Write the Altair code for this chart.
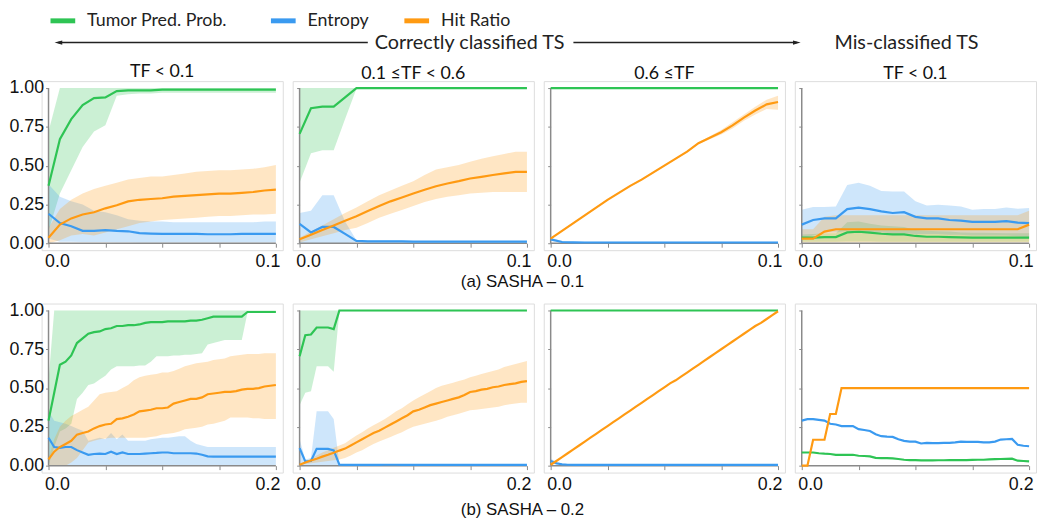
import altair as alt
import pandas as pd

SERIES = ["Tumor Pred. Prob.", "Entropy", "Hit Ratio"]
COLORS = ["#2ec454", "#3a9af0", "#ff9a12"]
COL_TITLES = ["TF < 0.1", "0.1 \u2264TF < 0.6", "0.6 \u2264TF", "TF < 0.1"]
X1 = [round(i * 0.005, 3) for i in range(21)]
X2 = [round(i * 0.005, 3) for i in range(41)]
TICKS1 = [0, 0.025, 0.05, 0.075, 0.1]
TICKS2 = [0, 0.05, 0.1, 0.15, 0.2]

# ---------- (a) SASHA - 0.1 ----------
a1_green = [0.37, 0.67, 0.80, 0.89, 0.935, 0.94, 0.98, 0.985, 0.985, 0.985, 0.99, 0.99, 0.99, 0.99, 0.99, 0.99, 0.99, 0.99, 0.99, 0.99, 0.99]
a1_green_lo = [0.08, 0.32, 0.47, 0.62, 0.72, 0.76, 0.95, 0.96, 0.965, 0.965, 0.97, 0.97, 0.97, 0.97, 0.97, 0.97, 0.97, 0.97, 0.97, 0.97, 0.97]
a1_green_hi = [0.72, 1.0, 1.0, 1.0, 1.0, 1.0, 1.0, 1.0, 1.0, 1.0, 1.0, 1.0, 1.0, 1.0, 1.0, 1.0, 1.0, 1.0, 1.0, 1.0, 1.0]
a1_blue = [0.19, 0.13, 0.11, 0.08, 0.08, 0.085, 0.08, 0.077, 0.065, 0.062, 0.06, 0.06, 0.06, 0.06, 0.058, 0.058, 0.058, 0.06, 0.06, 0.06, 0.06]
a1_blue_lo = [0.03, 0.01, 0.01, 0.008, 0.008, 0.008, 0.006, 0.006, 0.005, 0.005, 0.005, 0.005, 0.005, 0.005, 0.005, 0.005, 0.005, 0.005, 0.005, 0.005, 0.005]
a1_blue_hi = [0.38, 0.30, 0.27, 0.25, 0.21, 0.20, 0.18, 0.155, 0.145, 0.14, 0.14, 0.135, 0.135, 0.135, 0.135, 0.135, 0.135, 0.135, 0.135, 0.14, 0.14]
a1_orange = [0.035, 0.12, 0.16, 0.185, 0.20, 0.225, 0.245, 0.27, 0.28, 0.285, 0.29, 0.30, 0.305, 0.31, 0.315, 0.32, 0.32, 0.325, 0.33, 0.34, 0.345]
a1_orange_lo = [0.0, 0.02, 0.05, 0.06, 0.05, 0.07, 0.09, 0.11, 0.13, 0.14, 0.15, 0.155, 0.16, 0.165, 0.17, 0.175, 0.175, 0.18, 0.185, 0.185, 0.19]
a1_orange_hi = [0.10, 0.22, 0.28, 0.32, 0.35, 0.37, 0.39, 0.41, 0.42, 0.43, 0.43, 0.44, 0.45, 0.46, 0.465, 0.47, 0.47, 0.475, 0.48, 0.49, 0.505]

a2_green = [0.705, 0.87, 0.88, 0.88, 0.94, 1.0, 1.0, 1.0, 1.0, 1.0, 1.0, 1.0, 1.0, 1.0, 1.0, 1.0, 1.0, 1.0, 1.0, 1.0, 1.0]
a2_green_lo = [0.39, 0.58, 0.60, 0.60, 0.80, 0.995, 0.995, 0.995, 0.995, 0.995, 0.995, 0.995, 0.995, 0.995, 0.995, 0.995, 0.995, 0.995, 0.995, 0.995, 0.995]
a2_green_hi = [1.0, 1.0, 1.0, 1.0, 1.0, 1.0, 1.0, 1.0, 1.0, 1.0, 1.0, 1.0, 1.0, 1.0, 1.0, 1.0, 1.0, 1.0, 1.0, 1.0, 1.0]
a2_blue = [0.125, 0.07, 0.105, 0.105, 0.06, 0.015, 0.012, 0.012, 0.012, 0.012, 0.01, 0.01, 0.01, 0.01, 0.01, 0.01, 0.01, 0.01, 0.01, 0.01, 0.01]
a2_blue_lo = [0.0, 0.0, 0.0, 0.0, 0.0, 0.008, 0.006, 0.006, 0.006, 0.006, 0.005, 0.005, 0.005, 0.005, 0.005, 0.005, 0.005, 0.005, 0.005, 0.005, 0.005]
a2_blue_hi = [0.195, 0.21, 0.31, 0.31, 0.14, 0.02, 0.018, 0.018, 0.018, 0.018, 0.015, 0.015, 0.015, 0.015, 0.015, 0.015, 0.015, 0.015, 0.015, 0.015, 0.015]
a2_orange = [0.025, 0.055, 0.085, 0.115, 0.145, 0.174, 0.208, 0.24, 0.27, 0.295, 0.32, 0.345, 0.367, 0.385, 0.40, 0.417, 0.428, 0.44, 0.45, 0.46, 0.46]
a2_orange_lo = [0.005, 0.025, 0.045, 0.065, 0.085, 0.10, 0.13, 0.165, 0.19, 0.215, 0.24, 0.265, 0.285, 0.30, 0.31, 0.32, 0.325, 0.33, 0.33, 0.33, 0.33]
a2_orange_hi = [0.035, 0.075, 0.115, 0.155, 0.195, 0.23, 0.27, 0.31, 0.34, 0.37, 0.40, 0.44, 0.475, 0.49, 0.505, 0.525, 0.545, 0.56, 0.575, 0.59, 0.59]

a3_green = [1.0, 1.0, 1.0, 1.0, 1.0, 1.0, 1.0, 1.0, 1.0, 1.0, 1.0, 1.0, 1.0, 1.0, 1.0, 1.0, 1.0, 1.0, 1.0, 1.0, 1.0]
a3_blue = [0.025, 0.008, 0.006, 0.005, 0.005, 0.005, 0.005, 0.005, 0.005, 0.005, 0.005, 0.005, 0.005, 0.005, 0.005, 0.005, 0.005, 0.005, 0.005, 0.005, 0.005]
a3_blue_lo = [0.015, 0.003, 0.002, 0.002, 0.002, 0.002, 0.002, 0.002, 0.002, 0.002, 0.002, 0.002, 0.002, 0.002, 0.002, 0.002, 0.002, 0.002, 0.002, 0.002, 0.002]
a3_blue_hi = [0.035, 0.015, 0.01, 0.009, 0.009, 0.009, 0.009, 0.009, 0.009, 0.009, 0.009, 0.009, 0.009, 0.009, 0.009, 0.009, 0.009, 0.009, 0.009, 0.009, 0.009]
a3_orange = [0.03, 0.08, 0.13, 0.18, 0.23, 0.28, 0.325, 0.37, 0.41, 0.455, 0.50, 0.545, 0.59, 0.645, 0.68, 0.715, 0.76, 0.81, 0.855, 0.895, 0.91]
a3_orange_lo = [0.025, 0.075, 0.125, 0.175, 0.225, 0.275, 0.32, 0.365, 0.405, 0.45, 0.495, 0.54, 0.585, 0.64, 0.67, 0.70, 0.74, 0.79, 0.83, 0.865, 0.86]
a3_orange_hi = [0.035, 0.085, 0.135, 0.185, 0.235, 0.285, 0.33, 0.375, 0.415, 0.46, 0.505, 0.55, 0.595, 0.65, 0.69, 0.73, 0.78, 0.83, 0.88, 0.925, 0.95]

a4_green = [0.036, 0.036, 0.04, 0.04, 0.07, 0.074, 0.068, 0.061, 0.057, 0.057, 0.047, 0.042, 0.042, 0.04, 0.038, 0.036, 0.036, 0.036, 0.036, 0.036, 0.036]
a4_green_lo = [0.01, 0.01, 0.01, 0.01, 0.012, 0.012, 0.012, 0.01, 0.01, 0.01, 0.01, 0.01, 0.01, 0.01, 0.01, 0.01, 0.01, 0.01, 0.01, 0.01, 0.01]
a4_green_hi = [0.057, 0.06, 0.065, 0.065, 0.136, 0.14, 0.125, 0.115, 0.11, 0.105, 0.085, 0.08, 0.078, 0.075, 0.07, 0.068, 0.068, 0.066, 0.065, 0.065, 0.065]
a4_blue = [0.12, 0.15, 0.16, 0.16, 0.22, 0.23, 0.22, 0.205, 0.195, 0.20, 0.17, 0.16, 0.16, 0.15, 0.146, 0.138, 0.138, 0.138, 0.142, 0.133, 0.13]
a4_blue_lo = [0.03, 0.05, 0.07, 0.07, 0.08, 0.08, 0.07, 0.07, 0.065, 0.065, 0.06, 0.06, 0.06, 0.055, 0.055, 0.05, 0.05, 0.05, 0.05, 0.045, 0.04]
a4_blue_hi = [0.216, 0.233, 0.233, 0.237, 0.375, 0.39, 0.37, 0.337, 0.333, 0.333, 0.27, 0.244, 0.248, 0.244, 0.237, 0.216, 0.22, 0.22, 0.23, 0.222, 0.227]
a4_orange = [0.03, 0.03, 0.075, 0.09, 0.09, 0.09, 0.09, 0.09, 0.09, 0.09, 0.09, 0.09, 0.09, 0.09, 0.09, 0.09, 0.09, 0.09, 0.09, 0.09, 0.12]
a4_orange_lo = [0.005, 0.005, 0.005, 0.005, 0.005, 0.005, 0.005, 0.005, 0.005, 0.005, 0.005, 0.005, 0.005, 0.005, 0.005, 0.005, 0.005, 0.005, 0.005, 0.005, 0.005]
a4_orange_hi = [0.09, 0.09, 0.17, 0.18, 0.18, 0.18, 0.18, 0.18, 0.18, 0.18, 0.18, 0.18, 0.18, 0.18, 0.18, 0.18, 0.18, 0.18, 0.18, 0.18, 0.21]

# ---------- (b) SASHA - 0.2 ----------
b1_green = [0.29, 0.47, 0.65, 0.67, 0.71, 0.79, 0.82, 0.85, 0.86, 0.865, 0.88,
            0.885, 0.90, 0.90, 0.905, 0.905, 0.91, 0.92, 0.925, 0.925, 0.925,
            0.93, 0.93, 0.93, 0.93, 0.935, 0.935, 0.94, 0.95, 0.96, 0.96,
            0.96, 0.96, 0.96, 0.96, 0.99, 0.99, 0.99, 0.99, 0.99, 0.99]
b1_green_lo = [0.0, 0.12, 0.22, 0.24, 0.27, 0.43, 0.47, 0.52, 0.53, 0.555, 0.58,
               0.62, 0.64, 0.64, 0.64, 0.64, 0.645, 0.645, 0.67, 0.705, 0.705,
               0.705, 0.71, 0.71, 0.715, 0.715, 0.72, 0.725, 0.78, 0.79, 0.80,
               0.81, 0.81, 0.81, 0.81, 0.985, 0.985, 0.985, 0.985, 0.985, 0.985]
b1_green_hi = [0.55, 1.0, 1.0, 1.0, 1.0, 1.0, 1.0, 1.0, 1.0, 1.0, 1.0,
               1.0, 1.0, 1.0, 1.0, 1.0, 1.0, 1.0, 1.0, 1.0, 1.0,
               1.0, 1.0, 1.0, 1.0, 1.0, 1.0, 1.0, 1.0, 1.0, 1.0,
               1.0, 1.0, 1.0, 1.0, 1.0, 1.0, 1.0, 1.0, 1.0, 1.0]
b1_blue = [0.18, 0.12, 0.115, 0.12, 0.12, 0.10, 0.085, 0.07, 0.075, 0.078, 0.075,
           0.09, 0.075, 0.085, 0.075, 0.075, 0.075, 0.078, 0.08, 0.082, 0.085,
           0.085, 0.08, 0.08, 0.08, 0.08, 0.078, 0.07, 0.06, 0.058, 0.058,
           0.058, 0.058, 0.058, 0.058, 0.058, 0.058, 0.058, 0.058, 0.058, 0.058]
b1_blue_lo = [0.0, 0.0, 0.0, 0.005, 0.005, 0.005, 0.005, 0.005, 0.005, 0.005, 0.005,
              0.005, 0.005, 0.005, 0.005, 0.005, 0.005, 0.005, 0.005, 0.005, 0.005,
              0.005, 0.005, 0.005, 0.005, 0.005, 0.005, 0.005, 0.005, 0.005, 0.005,
              0.005, 0.005, 0.005, 0.005, 0.005, 0.005, 0.005, 0.005, 0.005, 0.005]
b1_blue_hi = [0.35, 0.29, 0.28, 0.27, 0.255, 0.24, 0.225, 0.16, 0.17, 0.18, 0.17,
              0.21, 0.17, 0.20, 0.16, 0.16, 0.16, 0.16, 0.17, 0.175, 0.18,
              0.18, 0.185, 0.19, 0.19, 0.16, 0.14, 0.13, 0.12, 0.12, 0.12,
              0.12, 0.12, 0.12, 0.12, 0.12, 0.12, 0.12, 0.12, 0.12, 0.12]
b1_orange = [0.04, 0.09, 0.12, 0.14, 0.16, 0.20, 0.21, 0.22, 0.24, 0.255, 0.265,
             0.27, 0.30, 0.305, 0.315, 0.33, 0.35, 0.355, 0.36, 0.37, 0.37,
             0.375, 0.40, 0.41, 0.42, 0.43, 0.43, 0.44, 0.46, 0.465, 0.47,
             0.475, 0.475, 0.48, 0.49, 0.495, 0.495, 0.50, 0.51, 0.515, 0.52]
b1_orange_lo = [0.0, 0.0, 0.0, 0.0, 0.02, 0.05, 0.10, 0.15, 0.16, 0.17, 0.175,
                0.18, 0.18, 0.18, 0.18, 0.18, 0.18, 0.18, 0.185, 0.19, 0.20,
                0.205, 0.21, 0.22, 0.235, 0.24, 0.245, 0.25, 0.265, 0.27, 0.28,
                0.29, 0.31, 0.31, 0.31, 0.31, 0.305, 0.305, 0.30, 0.30, 0.30]
b1_orange_hi = [0.05, 0.17, 0.25, 0.29, 0.32, 0.34, 0.36, 0.38, 0.42, 0.46, 0.47,
                0.475, 0.48, 0.50, 0.52, 0.55, 0.57, 0.58, 0.585, 0.59, 0.60,
                0.60, 0.61, 0.625, 0.64, 0.65, 0.66, 0.665, 0.67, 0.68, 0.685,
                0.69, 0.705, 0.71, 0.715, 0.72, 0.72, 0.72, 0.725, 0.725, 0.725]

b2_green = [0.705, 0.84, 0.845, 0.89, 0.89, 0.89, 0.88, 1.0, 1.0, 1.0, 1.0,
            1.0, 1.0, 1.0, 1.0, 1.0, 1.0, 1.0, 1.0, 1.0, 1.0,
            1.0, 1.0, 1.0, 1.0, 1.0, 1.0, 1.0, 1.0, 1.0, 1.0,
            1.0, 1.0, 1.0, 1.0, 1.0, 1.0, 1.0, 1.0, 1.0, 1.0]
b2_green_lo = [0.39, 0.47, 0.48, 0.64, 0.64, 0.64, 0.605, 0.995, 0.995, 0.995, 0.995,
               0.995, 0.995, 0.995, 0.995, 0.995, 0.995, 0.995, 0.995, 0.995, 0.995,
               0.995, 0.995, 0.995, 0.995, 0.995, 0.995, 0.995, 0.995, 0.995, 0.995,
               0.995, 0.995, 0.995, 0.995, 0.995, 0.995, 0.995, 0.995, 0.995, 0.995]
b2_green_hi = [1.0] * 41
b2_blue = [0.113, 0.028, 0.03, 0.108, 0.108, 0.108, 0.098, 0.006, 0.005, 0.005, 0.005,
           0.005, 0.005, 0.005, 0.005, 0.006, 0.006, 0.006, 0.005, 0.005, 0.005,
           0.005, 0.005, 0.005, 0.005, 0.005, 0.005, 0.005, 0.005, 0.005, 0.005,
           0.005, 0.005, 0.005, 0.005, 0.005, 0.005, 0.005, 0.005, 0.005, 0.005]
b2_blue_lo = [0.0] * 41
b2_blue_hi = [0.17, 0.04, 0.05, 0.35, 0.35, 0.35, 0.30, 0.008, 0.01, 0.01, 0.01,
              0.01, 0.01, 0.01, 0.01, 0.01, 0.01, 0.01, 0.01, 0.01, 0.01,
              0.01, 0.01, 0.01, 0.01, 0.01, 0.01, 0.01, 0.01, 0.01, 0.01,
              0.01, 0.01, 0.01, 0.01, 0.01, 0.01, 0.01, 0.01, 0.01, 0.01]
b2_orange = [0.006, 0.02, 0.033, 0.045, 0.058, 0.07, 0.083, 0.097, 0.11, 0.13, 0.15,
             0.17, 0.19, 0.21, 0.225, 0.245, 0.265, 0.285, 0.305, 0.325, 0.35,
             0.36, 0.375, 0.39, 0.40, 0.41, 0.42, 0.43, 0.44, 0.455, 0.475,
             0.48, 0.49, 0.495, 0.505, 0.51, 0.52, 0.525, 0.53, 0.54, 0.545]
b2_orange_lo = [0.0, 0.01, 0.015, 0.02, 0.025, 0.03, 0.035, 0.04, 0.05, 0.065, 0.085,
                0.10, 0.12, 0.14, 0.155, 0.17, 0.185, 0.20, 0.215, 0.235, 0.25,
                0.26, 0.27, 0.28, 0.29, 0.30, 0.315, 0.325, 0.335, 0.345, 0.357,
                0.36, 0.365, 0.37, 0.375, 0.38, 0.39, 0.395, 0.40, 0.405, 0.405]
b2_orange_hi = [0.006, 0.025, 0.045, 0.065, 0.085, 0.10, 0.115, 0.13, 0.145, 0.17, 0.195,
                0.215, 0.24, 0.26, 0.28, 0.30, 0.325, 0.35, 0.37, 0.395, 0.42,
                0.44, 0.46, 0.48, 0.50, 0.515, 0.525, 0.535, 0.545, 0.555, 0.57,
                0.58, 0.59, 0.60, 0.61, 0.62, 0.635, 0.645, 0.655, 0.665, 0.675]

b3_green = [1.0] * 41
b3_blue = [0.03, 0.015, 0.008, 0.006, 0.005, 0.005, 0.005, 0.005, 0.005, 0.005, 0.005,
           0.005, 0.005, 0.005, 0.005, 0.005, 0.005, 0.005, 0.005, 0.005, 0.005,
           0.005, 0.005, 0.005, 0.005, 0.005, 0.005, 0.005, 0.005, 0.005, 0.005,
           0.005, 0.005, 0.005, 0.005, 0.005, 0.005, 0.005, 0.005, 0.005, 0.005]
b3_blue_lo = [0.02, 0.005, 0.003, 0.002, 0.002, 0.002, 0.002, 0.002, 0.002, 0.002, 0.002,
              0.002, 0.002, 0.002, 0.002, 0.002, 0.002, 0.002, 0.002, 0.002, 0.002,
              0.002, 0.002, 0.002, 0.002, 0.002, 0.002, 0.002, 0.002, 0.002, 0.002,
              0.002, 0.002, 0.002, 0.002, 0.002, 0.002, 0.002, 0.002, 0.002, 0.002]
b3_blue_hi = [0.045, 0.025, 0.012, 0.01, 0.009, 0.009, 0.009, 0.009, 0.009, 0.009, 0.009,
              0.009, 0.009, 0.009, 0.009, 0.009, 0.009, 0.009, 0.009, 0.009, 0.009,
              0.009, 0.009, 0.009, 0.009, 0.009, 0.009, 0.009, 0.009, 0.009, 0.009,
              0.009, 0.009, 0.009, 0.009, 0.009, 0.009, 0.009, 0.009, 0.009, 0.009]
b3_orange = [0.006, 0.03, 0.055, 0.08, 0.105, 0.13, 0.155, 0.18, 0.205, 0.23, 0.255,
             0.28, 0.305, 0.33, 0.355, 0.38, 0.405, 0.43, 0.455, 0.48, 0.505,
             0.53, 0.55, 0.575, 0.60, 0.625, 0.65, 0.675, 0.70, 0.725, 0.75,
             0.775, 0.80, 0.825, 0.85, 0.875, 0.90, 0.92, 0.945, 0.97, 0.995]

b4_green = [0.085, 0.085, 0.085, 0.08, 0.077, 0.075, 0.07, 0.07, 0.07, 0.07,
            0.064, 0.062, 0.06, 0.05, 0.049, 0.049, 0.047, 0.043, 0.038, 0.036,
            0.036, 0.034, 0.034, 0.034, 0.035, 0.035, 0.036, 0.036, 0.036, 0.036,
            0.037, 0.038, 0.038, 0.04, 0.042, 0.043, 0.044, 0.045, 0.032, 0.03, 0.028]
b4_blue = [0.29, 0.30, 0.30, 0.295, 0.29, 0.27, 0.265, 0.255, 0.255, 0.255,
           0.235, 0.23, 0.223, 0.202, 0.19, 0.187, 0.185, 0.17, 0.16, 0.155,
           0.155, 0.143, 0.147, 0.145, 0.145, 0.147, 0.147, 0.15, 0.155, 0.153,
           0.153, 0.153, 0.15, 0.15, 0.155, 0.168, 0.17, 0.172, 0.134, 0.128, 0.125]
b4_orange = [0.0, 0.0, 0.167, 0.167, 0.167, 0.333, 0.333, 0.5, 0.5, 0.5, 0.5,
             0.5, 0.5, 0.5, 0.5, 0.5, 0.5, 0.5, 0.5, 0.5, 0.5,
             0.5, 0.5, 0.5, 0.5, 0.5, 0.5, 0.5, 0.5, 0.5, 0.5,
             0.5, 0.5, 0.5, 0.5, 0.5, 0.5, 0.5, 0.5, 0.5, 0.5]

CSCALE = alt.Scale(domain=SERIES, range=COLORS)
AXIS_GRAY = "#8a8a8a"
PAD = 7
W, H = 230 + 2 * PAD, 157 + 2 * PAD


def build_df(xs, series):
    rows = []
    for name, (mean, lo, hi) in series.items():
        for i, x in enumerate(xs):
            rows.append({"x": x, "series": name, "mean": mean[i],
                         "lo": lo[i] if lo is not None else None,
                         "hi": hi[i] if hi is not None else None})
    return pd.DataFrame(rows)


def panel(xs, series, xmax, ticks, title=None, first=False):
    df = build_df(xs, series)
    xsc = alt.Scale(domain=[0, xmax], padding=PAD, nice=False, zero=False)
    ysc = alt.Scale(domain=[0, 1], padding=PAD, nice=False, zero=False)
    xaxis = alt.Axis(values=ticks, title=None, domain=False, grid=False,
                     labelExpr=f"(datum.value < 1e-9 || datum.value > {xmax - 1e-6}) ? format(datum.value, '.1f') : ''",
                     tickSize=4, tickColor=AXIS_GRAY, labelFont="Liberation Sans",
                     labelFontSize=18, labelColor="#111", labelFlush=10,
                     labelFlushOffset=4, labelPadding=6, offset=-PAD, labelOverlap=False)
    yaxis = alt.Axis(values=[0, 0.25, 0.5, 0.75, 1], format=".2f", labels=first,
                     title=None, domain=False, grid=False, tickSize=3,
                     tickColor=AXIS_GRAY, labelFont="Liberation Sans", labelFontSize=18,
                     labelColor="#111", labelPadding=2, offset=-PAD, labelFlush=False)
    base = alt.Chart(df)
    band = base.transform_filter("datum.lo != null").mark_area(opacity=0.25).encode(
        x=alt.X("x:Q", scale=xsc, axis=xaxis),
        y=alt.Y("lo:Q", scale=ysc, axis=yaxis),
        y2="hi:Q",
        fill=alt.Fill("series:N", scale=CSCALE, legend=None),
        detail="series:N",
    )
    line = base.mark_line(strokeWidth=2.2).encode(
        x=alt.X("x:Q", scale=xsc, axis=xaxis),
        y=alt.Y("mean:Q", scale=ysc, axis=yaxis),
        color=alt.Color("series:N", scale=CSCALE, legend=None),
    )
    ax_df = pd.DataFrame({"x": [0, 0], "x2": [0, xmax], "lo": [0, 0], "y2": [1, 0]})
    axes = alt.Chart(ax_df).mark_rule(color=AXIS_GRAY, strokeWidth=1.5).encode(
        x=alt.X("x:Q", scale=xsc, axis=xaxis), x2="x2:Q",
        y=alt.Y("lo:Q", scale=ysc, axis=yaxis), y2="y2:Q",
    )
    ch = alt.layer(band, axes, line).properties(width=W, height=H)
    if title is not None:
        ch = ch.properties(title=alt.Title(title, fontSize=18, font="Lato",
                                           fontWeight="normal", color="#111",
                                           offset=-2, anchor="middle"))
    return ch


def s(mean, lo=None, hi=None):
    return (mean, lo, hi)


row1 = alt.hconcat(
    panel(X1, {SERIES[0]: s(a1_green, a1_green_lo, a1_green_hi),
               SERIES[1]: s(a1_blue, a1_blue_lo, a1_blue_hi),
               SERIES[2]: s(a1_orange, a1_orange_lo, a1_orange_hi)}, 0.1, TICKS1, COL_TITLES[0], True),
    panel(X1, {SERIES[0]: s(a2_green, a2_green_lo, a2_green_hi),
               SERIES[1]: s(a2_blue, a2_blue_lo, a2_blue_hi),
               SERIES[2]: s(a2_orange, a2_orange_lo, a2_orange_hi)}, 0.1, TICKS1, COL_TITLES[1]),
    panel(X1, {SERIES[0]: s(a3_green),
               SERIES[1]: s(a3_blue, a3_blue_lo, a3_blue_hi),
               SERIES[2]: s(a3_orange, a3_orange_lo, a3_orange_hi)}, 0.1, TICKS1, COL_TITLES[2]),
    panel(X1, {SERIES[0]: s(a4_green, a4_green_lo, a4_green_hi),
               SERIES[1]: s(a4_blue, a4_blue_lo, a4_blue_hi),
               SERIES[2]: s(a4_orange, a4_orange_lo, a4_orange_hi)}, 0.1, TICKS1, COL_TITLES[3]),
    spacing=8,
    title=alt.Title("(a) SASHA \u2013 0.1", orient="bottom", anchor="middle", fontSize=17,
                    font="Liberation Sans", fontWeight="normal", color="#111", offset=3),
)

row2 = alt.hconcat(
    panel(X2, {SERIES[0]: s(b1_green, b1_green_lo, b1_green_hi),
               SERIES[1]: s(b1_blue, b1_blue_lo, b1_blue_hi),
               SERIES[2]: s(b1_orange, b1_orange_lo, b1_orange_hi)}, 0.2, TICKS2, None, True),
    panel(X2, {SERIES[0]: s(b2_green, b2_green_lo, b2_green_hi),
               SERIES[1]: s(b2_blue, b2_blue_lo, b2_blue_hi),
               SERIES[2]: s(b2_orange, b2_orange_lo, b2_orange_hi)}, 0.2, TICKS2),
    panel(X2, {SERIES[0]: s(b3_green),
               SERIES[1]: s(b3_blue, b3_blue_lo, b3_blue_hi),
               SERIES[2]: s(b3_orange)}, 0.2, TICKS2),
    panel(X2, {SERIES[0]: s(b4_green),
               SERIES[1]: s(b4_blue),
               SERIES[2]: s(b4_orange)}, 0.2, TICKS2),
    spacing=8,
    title=alt.Title("(b) SASHA \u2013 0.2", orient="bottom", anchor="middle", fontSize=17,
                    font="Liberation Sans", fontWeight="normal", color="#111", offset=8),
)

# header: legend, arrows and group labels
one = alt.Chart(pd.DataFrame({"k": [0]}))
AY = 22
LY = 0
LEG_X = [9, 232, 367]
leg_df = pd.DataFrame({"series": SERIES, "sx": LEG_X})
leg = alt.Chart(leg_df).transform_calculate(sx2="datum.sx + 25", tx="datum.sx + 37")
hdr_layers = [
    leg.mark_rule(strokeWidth=5).encode(
        x=alt.X("sx:Q", scale=None, axis=None), x2="sx2:Q", y=alt.value(LY),
        color=alt.Color("series:N", scale=CSCALE, legend=None)),
    leg.mark_text(align="left", baseline="middle", font="Lato", fontSize=18, color="#222").encode(
        x=alt.X("tx:Q", scale=None, axis=None), y=alt.value(LY), text="series:N"),
    one.mark_rule(color="#222", strokeWidth=1.5).encode(x=alt.value(17), x2=alt.value(330), y=alt.value(AY)),
    one.mark_rule(color="#222", strokeWidth=1.5).encode(x=alt.value(538), x2=alt.value(764), y=alt.value(AY)),
    one.mark_point(shape="M -1 0 L 1 -0.55 L 1 0.55 Z", filled=True, size=60, color="#222", opacity=1).encode(x=alt.value(17), y=alt.value(AY)),
    one.mark_point(shape="M 1 0 L -1 -0.55 L -1 0.55 Z", filled=True, size=60, color="#222", opacity=1).encode(x=alt.value(764), y=alt.value(AY)),
    one.mark_text(text="Correctly classified TS", font="Lato", fontSize=20, color="#222", align="center", baseline="middle").encode(x=alt.value(433), y=alt.value(AY)),
    one.mark_text(text="Mis-classified TS", font="Lato", fontSize=20, color="#222", align="center", baseline="middle").encode(x=alt.value(875), y=alt.value(AY)),
]
header = alt.layer(*hdr_layers).properties(width=960, height=22,
                                           view=alt.ViewBackground(stroke="transparent"))

chart = alt.vconcat(header, alt.vconcat(row1, row2, spacing=10), spacing=9).properties(
    padding={"left": 0, "top": 0, "right": 0, "bottom": 0}
).configure_view(stroke="#d4d4d4", strokeWidth=1.5).configure(background="white")

chart.save("out.html", embed_options={"renderer": "svg", "actions": False})
